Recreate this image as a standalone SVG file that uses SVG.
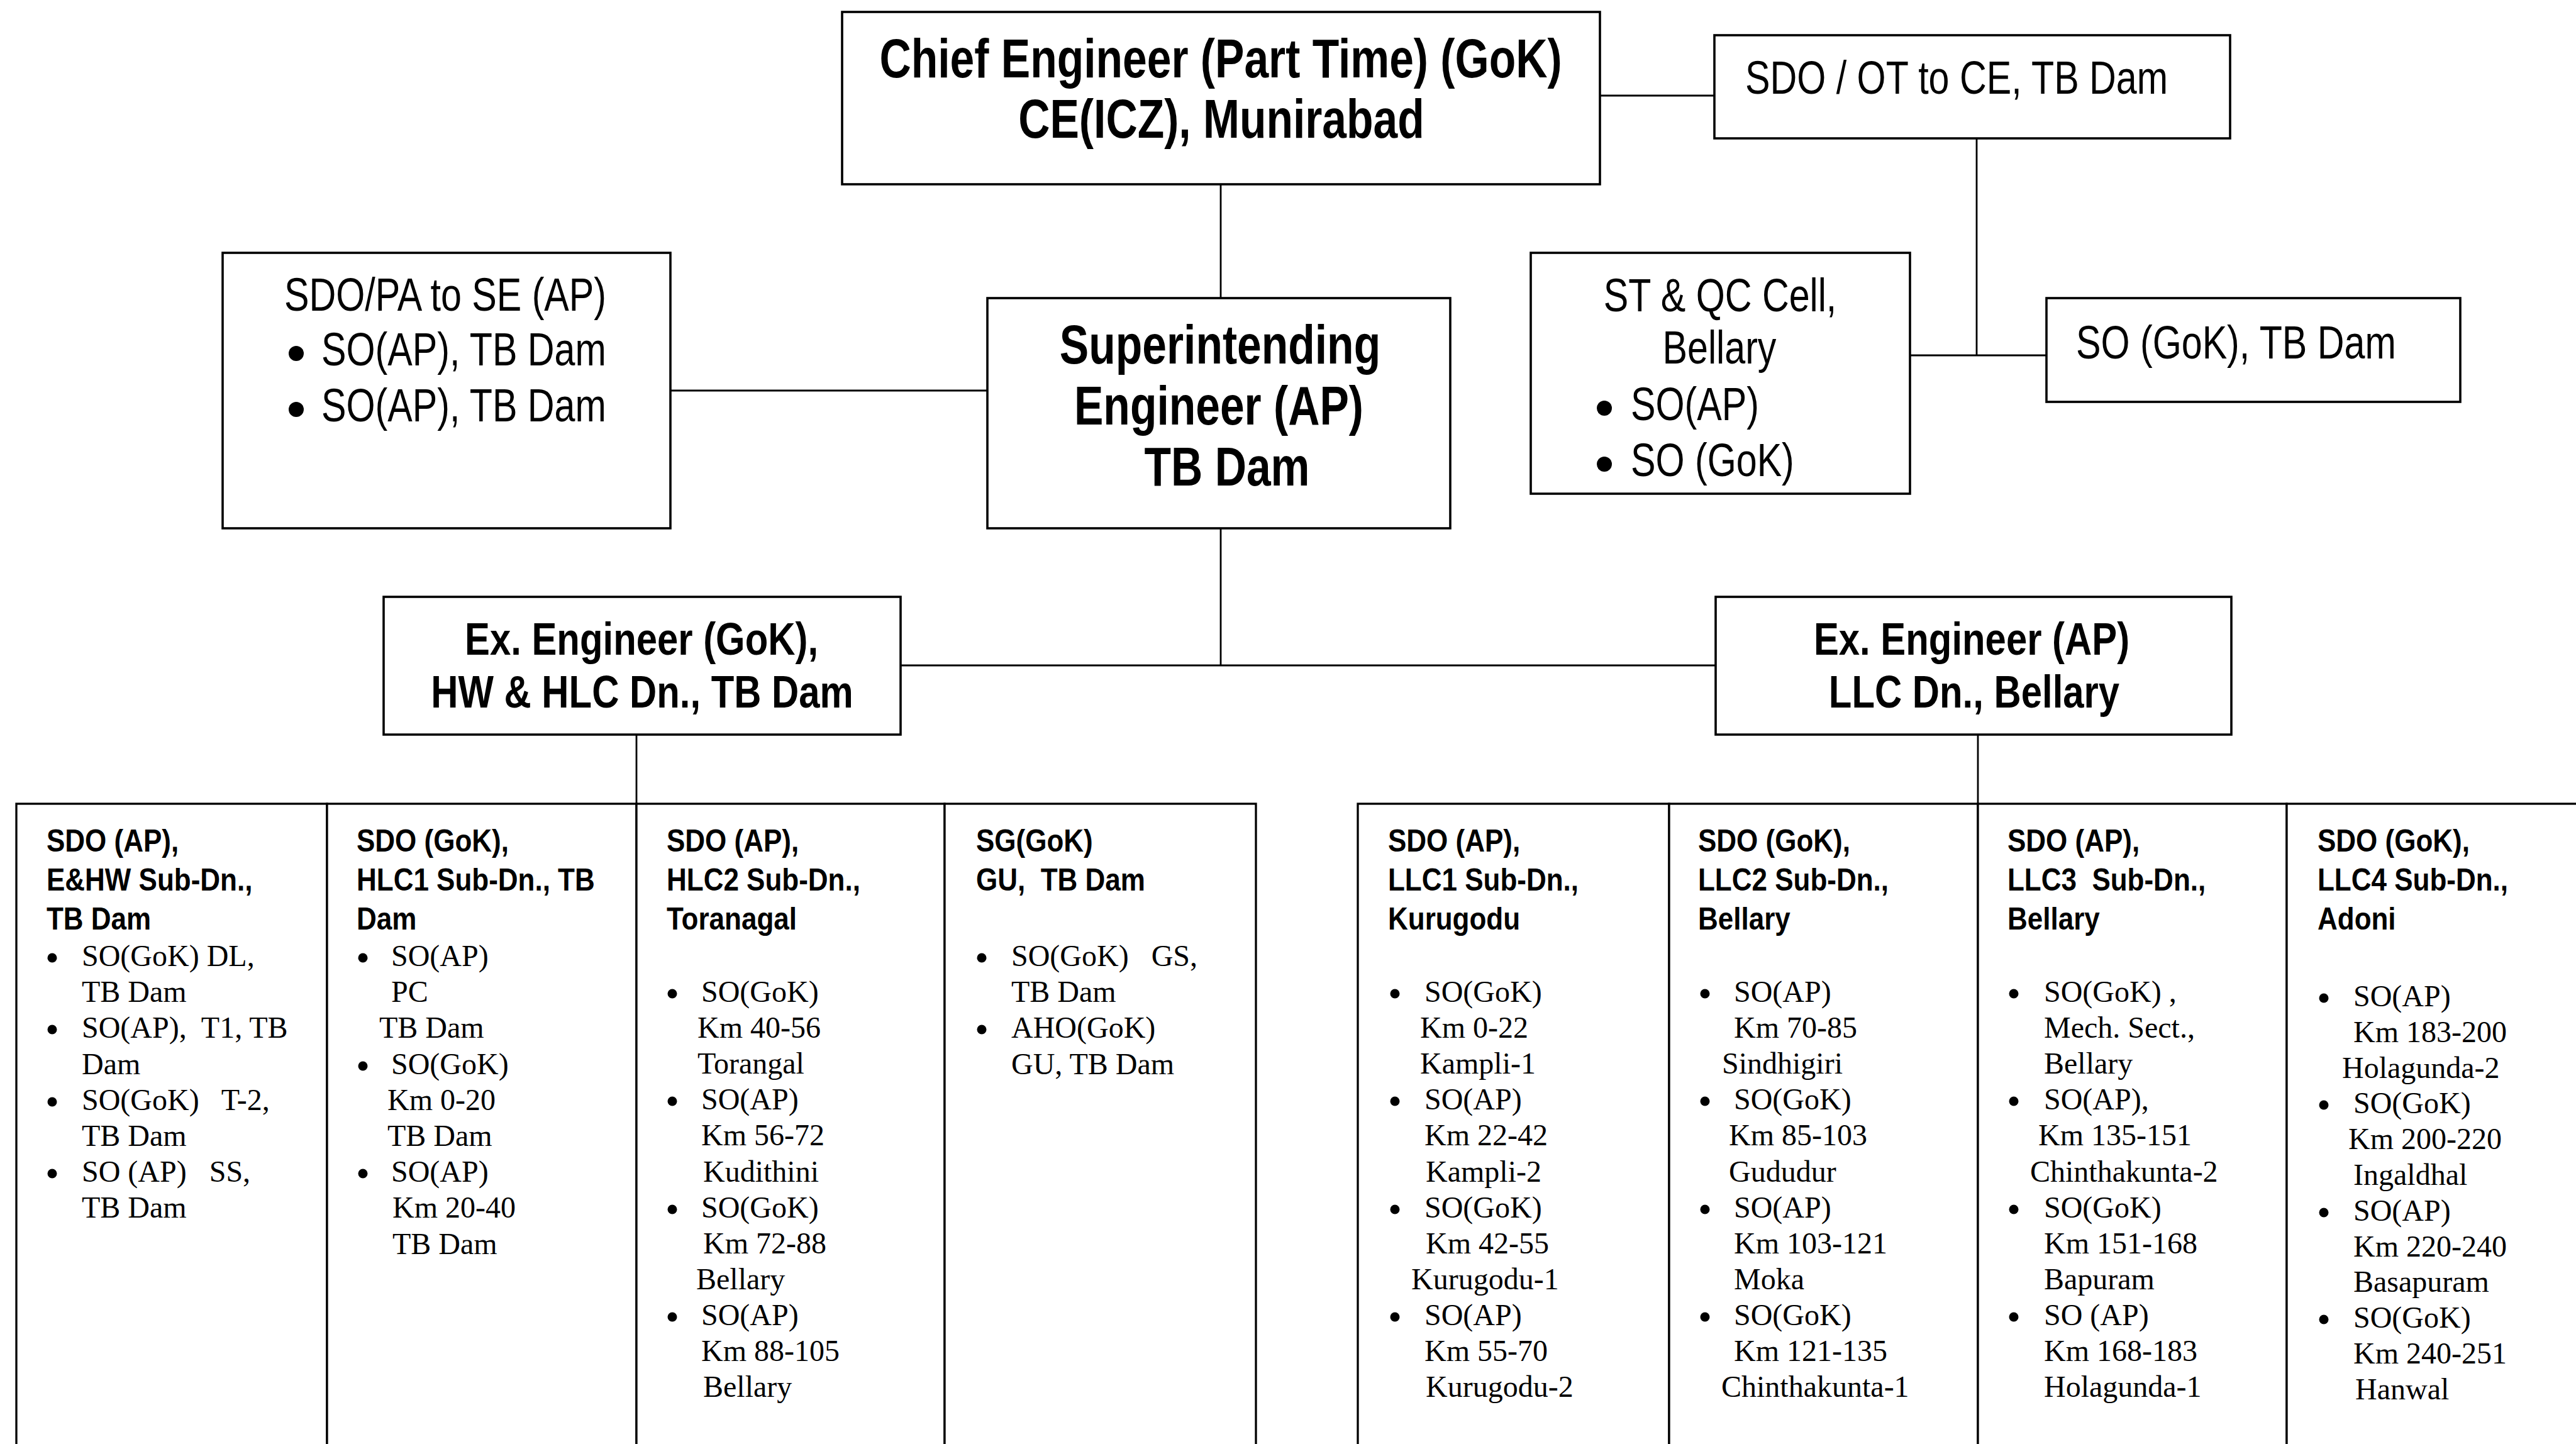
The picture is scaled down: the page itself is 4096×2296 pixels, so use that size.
<svg xmlns="http://www.w3.org/2000/svg" width="4096" height="2296" viewBox="0 0 4096 2296">
<style>
.box{fill:#fff;stroke:#000;stroke-width:3.6}
.col{fill:#fff;stroke:#000;stroke-width:3.3}
.conn line{stroke:#000;stroke-width:2.8}
.nb{font-family:"Liberation Sans",Arial,sans-serif;font-weight:bold;font-size:87px;fill:#000}
.ne{font-family:"Liberation Sans",Arial,sans-serif;font-weight:bold;font-size:73px;fill:#000}
.nr{font-family:"Liberation Sans",Arial,sans-serif;font-size:74px;fill:#000}
.h{font-family:"Liberation Sans",Arial,sans-serif;font-weight:bold;font-size:50px;fill:#000}
.b{font-family:"Liberation Serif","Times New Roman",serif;font-size:48px;fill:#000;white-space:pre}
.dot{fill:#000}
</style>
<rect width="4096" height="2296" fill="#fff"/>
<g id="connectors" class="conn">
<line x1="1941" y1="293" x2="1941" y2="474"/>
<line x1="2544" y1="152" x2="2726" y2="152"/>
<line x1="3143" y1="220" x2="3143" y2="565"/>
<line x1="3037" y1="565" x2="3254" y2="565"/>
<line x1="1066" y1="621" x2="1570" y2="621"/>
<line x1="1941" y1="840" x2="1941" y2="1058"/>
<line x1="1432" y1="1058" x2="2728" y2="1058"/>
<line x1="1012" y1="1168" x2="1012" y2="1278"/>
<line x1="3145" y1="1168" x2="3145" y2="1278"/>
</g>
<g id="ce">
<rect class="box" x="1339" y="19" width="1205" height="274"/>
<text class="nb" text-anchor="middle" transform="translate(1941,123) scale(0.80,1)">Chief Engineer (Part Time) (GoK)</text>
<text class="nb" text-anchor="middle" transform="translate(1942,219) scale(0.80,1)">CE(ICZ), Munirabad</text>
</g>
<g id="sdo-ot">
<rect class="box" x="2726" y="56" width="820" height="164"/>
<text class="nr" transform="translate(2775,149) scale(0.80,1)">SDO / OT to CE, TB Dam</text>
</g>
<g id="sdo-pa">
<rect class="box" x="354" y="402" width="712" height="438"/>
<text class="nr" text-anchor="middle" transform="translate(708,494) scale(0.80,1)">SDO/PA to SE (AP)</text>
<circle class="dot" cx="471" cy="562" r="12"/>
<text class="nr" transform="translate(511,581) scale(0.80,1)">SO(AP), TB Dam</text>
<circle class="dot" cx="471" cy="651" r="12"/>
<text class="nr" transform="translate(511,670) scale(0.80,1)">SO(AP), TB Dam</text>
</g>
<g id="se">
<rect class="box" x="1570" y="474" width="736" height="366"/>
<text class="nb" text-anchor="middle" transform="translate(1940,578) scale(0.80,1)">Superintending</text>
<text class="nb" text-anchor="middle" transform="translate(1938,675) scale(0.80,1)">Engineer (AP)</text>
<text class="nb" text-anchor="middle" transform="translate(1951,772) scale(0.80,1)">TB Dam</text>
</g>
<g id="stqc">
<rect class="box" x="2434" y="402" width="603" height="383"/>
<text class="nr" text-anchor="middle" transform="translate(2735,495) scale(0.80,1)">ST &amp; QC Cell,</text>
<text class="nr" text-anchor="middle" transform="translate(2734,578) scale(0.80,1)">Bellary</text>
<circle class="dot" cx="2551" cy="649" r="12"/>
<text class="nr" transform="translate(2593,668) scale(0.80,1)">SO(AP)</text>
<circle class="dot" cx="2551" cy="738" r="12"/>
<text class="nr" transform="translate(2593,757) scale(0.80,1)">SO (GoK)</text>
</g>
<g id="so-gok">
<rect class="box" x="3254" y="474" width="658" height="165"/>
<text class="nr" transform="translate(3301,570) scale(0.80,1)">SO (GoK), TB Dam</text>
</g>
<g id="ee-gok">
<rect class="box" x="610" y="949" width="822" height="219"/>
<text class="ne" text-anchor="middle" transform="translate(1020,1041) scale(0.82,1)">Ex. Engineer (GoK),</text>
<text class="ne" text-anchor="middle" transform="translate(1021,1125) scale(0.82,1)">HW &amp; HLC Dn., TB Dam</text>
</g>
<g id="ee-ap">
<rect class="box" x="2728" y="949" width="820" height="219"/>
<text class="ne" text-anchor="middle" transform="translate(3135,1041) scale(0.82,1)">Ex. Engineer (AP)</text>
<text class="ne" text-anchor="middle" transform="translate(3139,1125) scale(0.82,1)">LLC Dn., Bellary</text>
</g>
<g id="col1">
<rect class="col" x="26" y="1278" width="494" height="1060"/>
<g transform="translate(74,0) scale(0.88,1)"><text class="h" y="1354">SDO (AP),</text><text class="h" y="1416">E&amp;HW Sub-Dn.,</text><text class="h" y="1478">TB Dam</text></g>
<circle class="dot" cx="83" cy="1523" r="7.5"/><circle class="dot" cx="83" cy="1637" r="7.5"/><circle class="dot" cx="83" cy="1752" r="7.5"/><circle class="dot" cx="83" cy="1866" r="7.5"/>
<text class="b"><tspan x="130" y="1536">SO(GoK) DL,</tspan><tspan x="130" y="1593">TB Dam</tspan><tspan x="130" y="1650">SO(AP),  T1, TB</tspan><tspan x="130" y="1708">Dam</tspan><tspan x="130" y="1765">SO(GoK)   T-2,</tspan><tspan x="130" y="1822">TB Dam</tspan><tspan x="130" y="1879">SO (AP)   SS,</tspan><tspan x="130" y="1936">TB Dam</tspan></text>
</g>
<g id="col2">
<rect class="col" x="520" y="1278" width="492" height="1060"/>
<g transform="translate(567,0) scale(0.88,1)"><text class="h" y="1354">SDO (GoK),</text><text class="h" y="1416">HLC1 Sub-Dn., TB</text><text class="h" y="1478">Dam</text></g>
<circle class="dot" cx="577" cy="1523" r="7.5"/><circle class="dot" cx="577" cy="1695" r="7.5"/><circle class="dot" cx="577" cy="1866" r="7.5"/>
<text class="b"><tspan x="622" y="1536">SO(AP)</tspan><tspan x="622" y="1593">PC</tspan><tspan x="603" y="1650">TB Dam</tspan><tspan x="622" y="1708">SO(GoK)</tspan><tspan x="616" y="1765">Km 0-20</tspan><tspan x="616" y="1822">TB Dam</tspan><tspan x="622" y="1879">SO(AP)</tspan><tspan x="624" y="1936">Km 20-40</tspan><tspan x="624" y="1994">TB Dam</tspan></text>
</g>
<g id="col3">
<rect class="col" x="1012" y="1278" width="490" height="1060"/>
<g transform="translate(1060,0) scale(0.88,1)"><text class="h" y="1354">SDO (AP),</text><text class="h" y="1416">HLC2 Sub-Dn.,</text><text class="h" y="1478">Toranagal</text></g>
<circle class="dot" cx="1069" cy="1580" r="7.5"/><circle class="dot" cx="1069" cy="1751" r="7.5"/><circle class="dot" cx="1069" cy="1923" r="7.5"/><circle class="dot" cx="1069" cy="2094" r="7.5"/>
<text class="b"><tspan x="1115" y="1593">SO(GoK)</tspan><tspan x="1109" y="1650">Km 40-56</tspan><tspan x="1109" y="1707">Torangal</tspan><tspan x="1115" y="1764">SO(AP)</tspan><tspan x="1115" y="1821">Km 56-72</tspan><tspan x="1118" y="1879">Kudithini</tspan><tspan x="1115" y="1936">SO(GoK)</tspan><tspan x="1118" y="1993">Km 72-88</tspan><tspan x="1107" y="2050">Bellary</tspan><tspan x="1115" y="2107">SO(AP)</tspan><tspan x="1115" y="2164">Km 88-105</tspan><tspan x="1118" y="2221">Bellary</tspan></text>
</g>
<g id="col4">
<rect class="col" x="1502" y="1278" width="495" height="1060"/>
<g transform="translate(1552,0) scale(0.88,1)"><text class="h" y="1354">SG(GoK)</text><text class="h" y="1416" style="white-space:pre">GU,  TB Dam</text></g>
<circle class="dot" cx="1561" cy="1523" r="7.5"/><circle class="dot" cx="1561" cy="1637" r="7.5"/>
<text class="b"><tspan x="1608" y="1536">SO(GoK)   GS,</tspan><tspan x="1608" y="1593">TB Dam</tspan><tspan x="1608" y="1650">AHO(GoK)</tspan><tspan x="1608" y="1708">GU, TB Dam</tspan></text>
</g>
<g id="col5">
<rect class="col" x="2159" y="1278" width="495" height="1060"/>
<g transform="translate(2207,0) scale(0.88,1)"><text class="h" y="1354">SDO (AP),</text><text class="h" y="1416">LLC1 Sub-Dn.,</text><text class="h" y="1478">Kurugodu</text></g>
<circle class="dot" cx="2218" cy="1580" r="7.5"/><circle class="dot" cx="2218" cy="1751" r="7.5"/><circle class="dot" cx="2218" cy="1923" r="7.5"/><circle class="dot" cx="2218" cy="2094" r="7.5"/>
<text class="b"><tspan x="2265" y="1593">SO(GoK)</tspan><tspan x="2258" y="1650">Km 0-22</tspan><tspan x="2258" y="1707">Kampli-1</tspan><tspan x="2265" y="1764">SO(AP)</tspan><tspan x="2265" y="1821">Km 22-42</tspan><tspan x="2267" y="1879">Kampli-2</tspan><tspan x="2265" y="1936">SO(GoK)</tspan><tspan x="2267" y="1993">Km 42-55</tspan><tspan x="2244" y="2050">Kurugodu-1</tspan><tspan x="2265" y="2107">SO(AP)</tspan><tspan x="2265" y="2164">Km 55-70</tspan><tspan x="2267" y="2221">Kurugodu-2</tspan></text>
</g>
<g id="col6">
<rect class="col" x="2654" y="1278" width="491" height="1060"/>
<g transform="translate(2700,0) scale(0.88,1)"><text class="h" y="1354">SDO (GoK),</text><text class="h" y="1416">LLC2 Sub-Dn.,</text><text class="h" y="1478">Bellary</text></g>
<circle class="dot" cx="2711" cy="1580" r="7.5"/><circle class="dot" cx="2711" cy="1751" r="7.5"/><circle class="dot" cx="2711" cy="1923" r="7.5"/><circle class="dot" cx="2711" cy="2094" r="7.5"/>
<text class="b"><tspan x="2757" y="1593">SO(AP)</tspan><tspan x="2757" y="1650">Km 70-85</tspan><tspan x="2738" y="1707">Sindhigiri</tspan><tspan x="2757" y="1764">SO(GoK)</tspan><tspan x="2749" y="1821">Km 85-103</tspan><tspan x="2749" y="1879">Gududur</tspan><tspan x="2757" y="1936">SO(AP)</tspan><tspan x="2757" y="1993">Km 103-121</tspan><tspan x="2757" y="2050">Moka</tspan><tspan x="2757" y="2107">SO(GoK)</tspan><tspan x="2757" y="2164">Km 121-135</tspan><tspan x="2737" y="2221">Chinthakunta-1</tspan></text>
</g>
<g id="col7">
<rect class="col" x="3145" y="1278" width="491" height="1060"/>
<g transform="translate(3192,0) scale(0.88,1)"><text class="h" y="1354">SDO (AP),</text><text class="h" y="1416" style="white-space:pre">LLC3  Sub-Dn.,</text><text class="h" y="1478">Bellary</text></g>
<circle class="dot" cx="3202" cy="1580" r="7.5"/><circle class="dot" cx="3202" cy="1751" r="7.5"/><circle class="dot" cx="3202" cy="1923" r="7.5"/><circle class="dot" cx="3202" cy="2094" r="7.5"/>
<text class="b"><tspan x="3250" y="1593">SO(GoK) ,</tspan><tspan x="3250" y="1650">Mech. Sect.,</tspan><tspan x="3250" y="1707">Bellary</tspan><tspan x="3250" y="1764">SO(AP),</tspan><tspan x="3241" y="1821">Km 135-151</tspan><tspan x="3228" y="1879">Chinthakunta-2</tspan><tspan x="3250" y="1936">SO(GoK)</tspan><tspan x="3250" y="1993">Km 151-168</tspan><tspan x="3250" y="2050">Bapuram</tspan><tspan x="3250" y="2107">SO (AP)</tspan><tspan x="3250" y="2164">Km 168-183</tspan><tspan x="3250" y="2221">Holagunda-1</tspan></text>
</g>
<g id="col8">
<rect class="col" x="3636" y="1278" width="492" height="1060"/>
<g transform="translate(3685,0) scale(0.88,1)"><text class="h" y="1354">SDO (GoK),</text><text class="h" y="1416">LLC4 Sub-Dn.,</text><text class="h" y="1478">Adoni</text></g>
<circle class="dot" cx="3695" cy="1587" r="7.5"/><circle class="dot" cx="3695" cy="1757" r="7.5"/><circle class="dot" cx="3695" cy="1928" r="7.5"/><circle class="dot" cx="3695" cy="2098" r="7.5"/>
<text class="b"><tspan x="3742" y="1600">SO(AP)</tspan><tspan x="3742" y="1657">Km 183-200</tspan><tspan x="3724" y="1714">Holagunda-2</tspan><tspan x="3742" y="1770">SO(GoK)</tspan><tspan x="3734" y="1827">Km 200-220</tspan><tspan x="3742" y="1884">Ingaldhal</tspan><tspan x="3742" y="1941">SO(AP)</tspan><tspan x="3742" y="1998">Km 220-240</tspan><tspan x="3742" y="2054">Basapuram</tspan><tspan x="3742" y="2111">SO(GoK)</tspan><tspan x="3742" y="2168">Km 240-251</tspan><tspan x="3745" y="2225">Hanwal</tspan></text>
</g>
</svg>
